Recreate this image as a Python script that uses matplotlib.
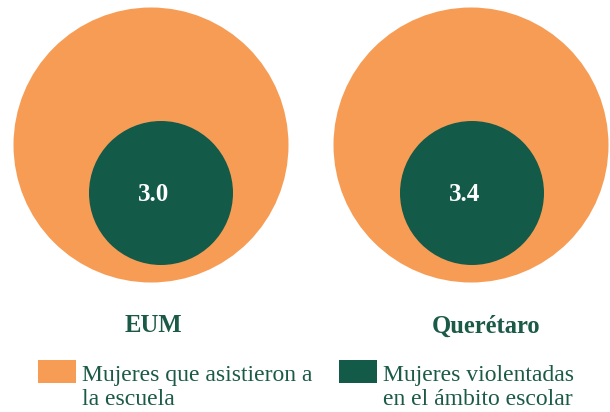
import matplotlib.pyplot as plt
from matplotlib.patches import Circle, Rectangle

# Datos
regiones = ['EUM', 'Querétaro']
valores = [3.0, 3.4]
leyenda = [['Mujeres que asistieron a', 'la escuela'],
           ['Mujeres violentadas', 'en el ámbito escolar']]

naranja = '#F79C55'
verde = '#135A49'
texto = '#1B5A47'

plt.rcParams['font.family'] = ['Liberation Serif', 'DejaVu Serif']

fig = plt.figure(figsize=(6.1, 4.12), dpi=100)
ax = fig.add_axes([0, 0, 1, 1])
ax.set_xlim(0, 610)
ax.set_ylim(412, 0)
ax.set_aspect('equal')
ax.axis('off')

# circulos: grande (asistencia) y chico (violencia)
grandes_x = [151, 471]
chicos_x = [161, 472]
etiquetas_x = [153, 486]
for gx, cx, lx, reg, val in zip(grandes_x, chicos_x, etiquetas_x, regiones, valores):
    ax.add_patch(Circle((gx, 145), 137.5, color=naranja, lw=0))
    ax.add_patch(Circle((cx, 193), 72, color=verde, lw=0))
    ax.text(cx - 7, 194, f'{val:.1f}', color='white', fontsize=18, fontweight='bold',
            ha='center', va='center')
    ax.text(lx, 326, reg, color=texto, fontsize=17.7, fontweight='bold',
            ha='center', va='center')

# Leyenda
for x0, col, lineas in zip([38, 339], [naranja, verde], leyenda):
    ax.add_patch(Rectangle((x0, 360), 38, 23, color=col, lw=0))
    for i, linea in enumerate(lineas):
        ax.text(x0 + 44, 381 + 24 * i, linea, color=texto, fontsize=17,
                ha='left', va='baseline')

fig.savefig('out.png', dpi=100)
